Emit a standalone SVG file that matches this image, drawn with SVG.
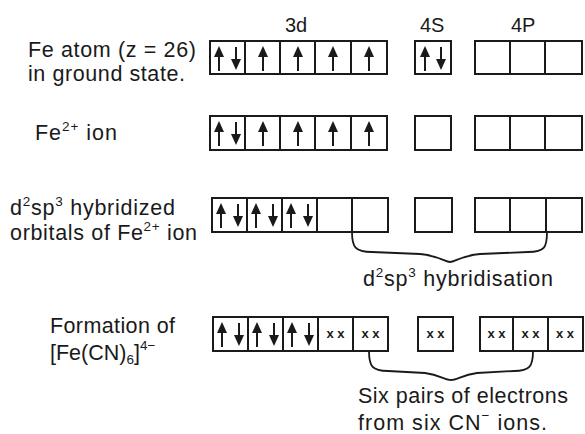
<svg xmlns="http://www.w3.org/2000/svg" width="585" height="434" viewBox="0 0 585 434">
<style>
text{font-family:"Liberation Sans",Arial,sans-serif;fill:#1a1a1a;font-size:21.5px}
.hd{font-size:20px}
.box{fill:none;stroke:#1a1a1a;stroke-width:2}
.sh{stroke:#1a1a1a;stroke-width:2}
.xx{font-size:13px;font-weight:bold}
.sup{font-size:13.5px}
.brace{fill:none;stroke:#1a1a1a;stroke-width:1.8}
</style>
<defs>
<g id="up"><line class="sh" x1="0" y1="8" x2="0" y2="25"/><polygon points="0,0 -5,11 5,11" fill="#1a1a1a"/></g>
<g id="dn"><line class="sh" x1="0" y1="0" x2="0" y2="14"/><polygon points="0,23 -5,12 5,12" fill="#1a1a1a"/></g>
</defs>
<rect width="585" height="434" fill="#fff"/>
<g id="headers">
<text class="hd" x="285" y="32">3d</text>
<text class="hd" x="420" y="32">4S</text>
<text class="hd" x="511" y="32">4P</text>
</g>
<g id="labels">
<text x="28" y="57" textLength="168">Fe atom (z = 26)</text>
<text x="28" y="81" textLength="157">in ground state.</text>
<text x="35" y="140" textLength="82">Fe<tspan class="sup" dy="-9">2+</tspan><tspan dy="9"> ion</tspan></text>
<text x="10" y="215" textLength="165">d<tspan class="sup" dy="-9">2</tspan><tspan dy="9">sp</tspan><tspan class="sup" dy="-9">3</tspan><tspan dy="9"> hybridized</tspan></text>
<text x="10" y="240" textLength="187">orbitals of Fe<tspan class="sup" dy="-9">2+</tspan><tspan dy="9"> ion</tspan></text>
<text x="50" y="333" textLength="125">Formation of</text>
<text x="50" y="360">[Fe(CN)<tspan class="sup" dy="4">6</tspan><tspan dy="-4">]</tspan><tspan class="sup" dy="-10">4−</tspan></text>
</g>
<g id="row1">
<rect class="box" x="210" y="41" width="177" height="33"/>
<path class="box" d="M245,41V74M280,41V74M315,41V74M351,41V74"/>
<use href="#up" x="219" y="46"/><use href="#dn" x="236" y="47"/>
<use href="#up" x="263" y="46"/><use href="#up" x="298" y="46"/><use href="#up" x="333" y="46"/><use href="#up" x="369" y="46"/>
<rect class="box" x="415" y="41" width="36" height="33"/>
<use href="#up" x="425" y="46"/><use href="#dn" x="441" y="47"/>
<rect class="box" x="475" y="41" width="107" height="33"/>
<path class="box" d="M510,41V74M545,41V74"/>
</g>
<g id="row2">
<rect class="box" x="210" y="116" width="177" height="34"/>
<path class="box" d="M245,116V150M280,116V150M315,116V150M351,116V150"/>
<use href="#up" x="219" y="121"/><use href="#dn" x="236" y="122"/>
<use href="#up" x="263" y="121"/><use href="#up" x="298" y="121"/><use href="#up" x="333" y="121"/><use href="#up" x="369" y="121"/>
<rect class="box" x="415" y="116" width="36" height="34"/>
<rect class="box" x="475" y="116" width="107" height="34"/>
<path class="box" d="M510,116V150M545,116V150"/>
</g>
<g id="row3">
<rect class="box" x="212" y="198" width="176" height="34"/>
<path class="box" d="M247,198V232M282,198V232M317,198V232M352,198V232"/>
<use href="#up" x="221" y="203"/><use href="#dn" x="238" y="204"/>
<use href="#up" x="256" y="203"/><use href="#dn" x="273" y="204"/>
<use href="#up" x="291" y="203"/><use href="#dn" x="308" y="204"/>
<rect class="box" x="415" y="198" width="37" height="34"/>
<rect class="box" x="475" y="198" width="107" height="34"/>
<path class="box" d="M510,198V232M546,198V232"/>
</g>
<g id="row4">
<rect class="box" x="213" y="317" width="175" height="34"/>
<path class="box" d="M248,317V351M283,317V351M318,317V351M353,317V351"/>
<use href="#up" x="222" y="322"/><use href="#dn" x="239" y="323"/>
<use href="#up" x="257" y="322"/><use href="#dn" x="274" y="323"/>
<use href="#up" x="292" y="322"/><use href="#dn" x="309" y="323"/>
<text class="xx" x="335.5" y="338" text-anchor="middle">x x</text>
<text class="xx" x="370.5" y="338" text-anchor="middle">x x</text>
<rect class="box" x="418" y="317" width="35" height="34"/>
<text class="xx" x="435.5" y="338" text-anchor="middle">x x</text>
<rect class="box" x="480" y="317" width="103" height="34"/>
<path class="box" d="M513,317V351M548,317V351"/>
<text class="xx" x="496.5" y="338" text-anchor="middle">x x</text>
<text class="xx" x="530.5" y="338" text-anchor="middle">x x</text>
<text class="xx" x="565" y="338" text-anchor="middle">x x</text>
</g>
<g id="connectors">
<path class="brace" d="M352,232 C352,247 355,252 372,252 L420,254 C440,256 445,262 450,262 C455,262 460,256 480,254 L528,252 C545,252 547,247 547,232"/>
<path class="brace" d="M369,351 C369,366 372,371 388,371 L425,373 C440,375 445,380 451,380 C457,380 462,375 477,373 L514,371 C530,371 533,366 533,351"/>
</g>
<g id="notes">
<text x="363" y="286" textLength="190">d<tspan class="sup" dy="-9">2</tspan><tspan dy="9">sp</tspan><tspan class="sup" dy="-9">3</tspan><tspan dy="9"> hybridisation</tspan></text>
<text x="358" y="403" textLength="210">Six pairs of electrons</text>
<text x="358" y="430" textLength="189">from six CN<tspan class="sup" dy="-10">−</tspan><tspan dy="10"> ions.</tspan></text>
</g>
</svg>
